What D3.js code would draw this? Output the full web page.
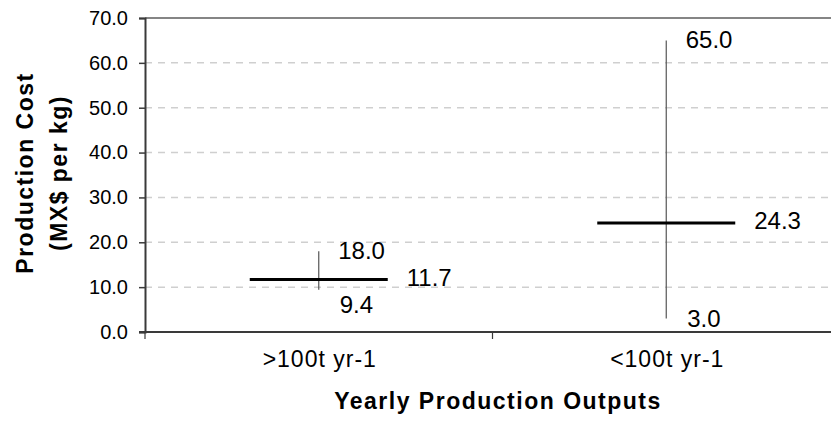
<!DOCTYPE html>
<html>
<head>
<meta charset="utf-8">
<script src="https://cdn.jsdelivr.net/npm/d3@7"></script>
<style>
  body { margin: 0; background: #fff; }
  svg text { font-family: "Liberation Sans", Arial, sans-serif; fill: #000; }
</style>
</head>
<body>
<svg id="chart" width="831" height="432"></svg>
<script>
// chart data
const categories = [">100t yr-1", "<100t yr-1"];
const highValues = [18.0, 65.0];
const lowValues = [9.4, 3.0];
const meanValues = [11.7, 24.3];
const yTicks = [0, 10, 20, 30, 40, 50, 60, 70];

const svg = d3.select("#chart");
const margin = {left: 145, right: -9, top: 18, bottom: 100};
const width = 831 - margin.left - margin.right;
const height = 432 - margin.top - margin.bottom;

const g = svg.append("g").attr("transform", `translate(${margin.left},${margin.top})`);

const x = d3.scaleBand().domain(categories).range([0, width]);
const y = d3.scaleLinear().domain([0, 70]).range([height, 0]);
const cx = d => x(d) + x.bandwidth() / 2;
const fmt = d3.format(".1f");
const meanHalf = 69;

// dashed gridlines
g.append("g")
  .selectAll("line")
  .data(yTicks.filter(d => d > 0 && d < 70))
  .join("line")
  .attr("x1", 0).attr("x2", width)
  .attr("y1", d => y(d)).attr("y2", d => y(d))
  .attr("stroke", "#cfcfcf")
  .attr("stroke-width", 1.5)
  .attr("stroke-dasharray", "7,6");

// top border
g.append("line")
  .attr("x1", 0).attr("x2", width)
  .attr("y1", 0).attr("y2", 0)
  .attr("stroke", "#858585").attr("stroke-width", 2);

// y axis
const yAxis = g.append("g")
  .call(d3.axisLeft(y).tickValues(yTicks).tickFormat(fmt).tickSize(6).tickPadding(11));
yAxis.select(".domain").attr("stroke", "#3a3a3a").attr("stroke-width", 2);
yAxis.selectAll(".tick line").attr("stroke", "#3a3a3a").attr("stroke-width", 1.5);
yAxis.selectAll("text").style("font-size", "20px").attr("fill", "#000");

// x axis with ticks between categories
const xAxis = g.append("g").attr("transform", `translate(0,${height})`);
xAxis.append("line")
  .attr("x1", -6).attr("x2", width)
  .attr("stroke", "#3a3a3a").attr("stroke-width", 2);
xAxis.selectAll(".sep")
  .data(categories)
  .join("line")
  .attr("class", "sep")
  .attr("x1", d => x(d)).attr("x2", d => x(d))
  .attr("y1", 0).attr("y2", 7)
  .attr("stroke", "#3a3a3a").attr("stroke-width", 1.2);
xAxis.selectAll(".lbl")
  .data(categories)
  .join("text")
  .attr("class", "lbl")
  .attr("x", d => cx(d) + 1)
  .attr("y", 35)
  .attr("text-anchor", "middle")
  .style("font-size", "23px")
  .style("letter-spacing", "1px")
  .text(d => d);

// high-low lines
g.selectAll(".hl")
  .data(categories)
  .join("line")
  .attr("class", "hl")
  .attr("x1", cx).attr("x2", cx)
  .attr("y1", (d, i) => y(highValues[i]))
  .attr("y2", (d, i) => y(lowValues[i]))
  .attr("stroke", "#555").attr("stroke-width", 1.2);

// mean bars
g.selectAll(".mean")
  .data(categories)
  .join("line")
  .attr("class", "mean")
  .attr("x1", d => cx(d) - meanHalf).attr("x2", d => cx(d) + meanHalf)
  .attr("y1", (d, i) => y(meanValues[i]))
  .attr("y2", (d, i) => y(meanValues[i]))
  .attr("stroke", "#000").attr("stroke-width", 3.2);

// value labels
g.selectAll(".hiLbl")
  .data(categories)
  .join("text")
  .attr("class", "hiLbl")
  .attr("x", d => cx(d) + 19.5)
  .attr("y", (d, i) => y(highValues[i]) - 1)
  .attr("dy", "0.35em")
  .style("font-size", "24px")
  .text((d, i) => fmt(highValues[i]));

g.selectAll(".loLbl")
  .data(categories)
  .join("text")
  .attr("class", "loLbl")
  .attr("x", d => cx(d) + 21)
  .attr("y", (d, i) => Math.min(y(lowValues[i]) + 15, height - 13.5))
  .attr("dy", "0.35em")
  .style("font-size", "24px")
  .text((d, i) => fmt(lowValues[i]));

g.selectAll(".meanLbl")
  .data(categories)
  .join("text")
  .attr("class", "meanLbl")
  .attr("x", d => cx(d) + meanHalf + 19)
  .attr("y", (d, i) => y(meanValues[i]) - 2)
  .attr("dy", "0.35em")
  .style("font-size", "24px")
  .text((d, i) => fmt(meanValues[i]));

// axis titles
svg.append("text")
  .attr("x", 498).attr("y", 409)
  .attr("text-anchor", "middle")
  .style("font-size", "23px").style("font-weight", "bold")
  .style("letter-spacing", "1.5px")
  .text("Yearly Production Outputs");

const yt = svg.append("text")
  .attr("transform", "translate(33,173) rotate(-90)")
  .attr("text-anchor", "middle")
  .style("font-size", "23px").style("font-weight", "bold")
  .style("letter-spacing", "1.5px");
yt.append("tspan").attr("x", 0).attr("y", 0).text("Production Cost");
yt.append("tspan").attr("x", 0).attr("y", 34).text("(MX$ per kg)");
</script>
</body>
</html>
